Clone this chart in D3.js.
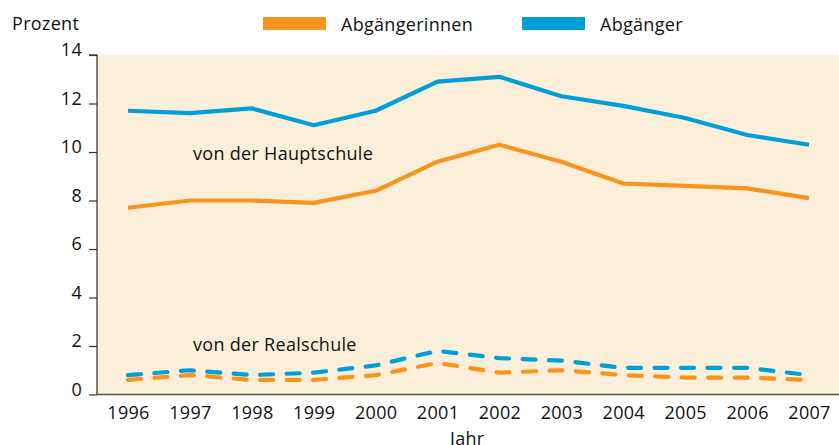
<!DOCTYPE html>
<html>
<head>
<meta charset="utf-8">
<script src="https://cdn.jsdelivr.net/npm/d3@7"></script>
<style>
  body { margin: 0; background: #fff; }
  svg text { font-family: "Open Sans", "Noto Sans", sans-serif; fill: #111; letter-spacing: 0.3px; }
</style>
</head>
<body>
<svg id="chart" width="839" height="445"></svg>
<script>
const years = [1996, 1997, 1998, 1999, 2000, 2001, 2002, 2003, 2004, 2005, 2006, 2007];
const yTicks = [0, 2, 4, 6, 8, 10, 12, 14];

// Hauptschule (solid), Realschule (dashed)
const hauptMaennlich = [11.7, 11.6, 11.8, 11.1, 11.7, 12.9, 13.1, 12.3, 11.9, 11.4, 10.7, 10.3];
const hauptWeiblich = [7.7, 8.0, 8.0, 7.9, 8.4, 9.6, 10.3, 9.6, 8.7, 8.6, 8.5, 8.1];
const realMaennlich = [0.8, 1.0, 0.8, 0.9, 1.2, 1.8, 1.5, 1.4, 1.1, 1.1, 1.1, 0.8];
const realWeiblich = [0.6, 0.8, 0.6, 0.6, 0.8, 1.3, 0.9, 1.0, 0.8, 0.7, 0.7, 0.6];

const orange = "#f7941d", blue = "#009fda";
const fs = 18;

const svg = d3.select("#chart");
const plot = { left: 97, right: 839, top: 55, bottom: 394.5 };

const x = d3.scaleLinear().domain([1996, 2007]).range([128, 809]);
const y = d3.scaleLinear().domain([0, 14]).range([plot.bottom, plot.top]);

svg.append("rect")
  .attr("x", plot.left).attr("y", plot.top)
  .attr("width", plot.right - plot.left).attr("height", plot.bottom - plot.top)
  .attr("fill", "#fcefd9");

// y axis
const yAxis = svg.append("g")
  .attr("transform", `translate(${plot.left},0)`)
  .call(d3.axisLeft(y).tickValues(yTicks).tickSize(8).tickPadding(7));
yAxis.select(".domain").attr("stroke", "#555").attr("stroke-width", 1.5).attr("d", `M-8,${plot.top}H0V${plot.bottom}`);
yAxis.selectAll(".tick line").attr("stroke", "#333").attr("stroke-width", 1.2);
yAxis.selectAll(".tick text").attr("font-size", fs).attr("fill", "#111").attr("dy", "0.05em");

// x axis
const xAxis = svg.append("g")
  .attr("transform", `translate(0,${plot.bottom})`)
  .call(d3.axisBottom(x).tickValues(years).tickFormat(d3.format("d")).tickSize(0).tickPadding(11.5));
xAxis.select(".domain").attr("stroke", "#555").attr("stroke-width", 1.5).attr("d", `M${plot.left},0H${plot.right}`);
xAxis.selectAll(".tick text").attr("font-size", fs).attr("fill", "#111");

svg.append("text").attr("x", 450).attr("y", 445).attr("font-size", fs).text("Jahr");
svg.append("text").attr("x", 12).attr("y", 30).attr("font-size", fs).text("Prozent");

const line = d3.line().x((d, i) => x(years[i])).y(d => y(d));

const series = [
  { values: hauptMaennlich, color: blue, dash: null },
  { values: hauptWeiblich, color: orange, dash: null },
  { values: realMaennlich, color: blue, dash: "13,13.5" },
  { values: realWeiblich, color: orange, dash: "13,13.5" }
];

series.forEach(s => {
  svg.append("path")
    .datum(s.values)
    .attr("fill", "none")
    .attr("stroke", s.color)
    .attr("stroke-width", 4.2)
    .attr("stroke-linejoin", "round")
    .attr("stroke-linecap", s.dash ? "round" : "butt")
    .attr("stroke-dasharray", s.dash)
    .attr("d", line);
});

svg.append("text").attr("x", 193).attr("y", 160).attr("font-size", fs).text("von der Hauptschule");
svg.append("text").attr("x", 193).attr("y", 351).attr("font-size", fs).text("von der Realschule");

// legend
const legend = [
  { label: "Abgängerinnen", color: orange, x: 263 },
  { label: "Abgänger", color: blue, x: 522 }
];
legend.forEach(l => {
  svg.append("rect").attr("x", l.x).attr("y", 17).attr("width", 63).attr("height", 13).attr("fill", l.color);
  svg.append("text").attr("x", l.x + 78).attr("y", 31).attr("font-size", fs).text(l.label);
});
</script>
</body>
</html>
